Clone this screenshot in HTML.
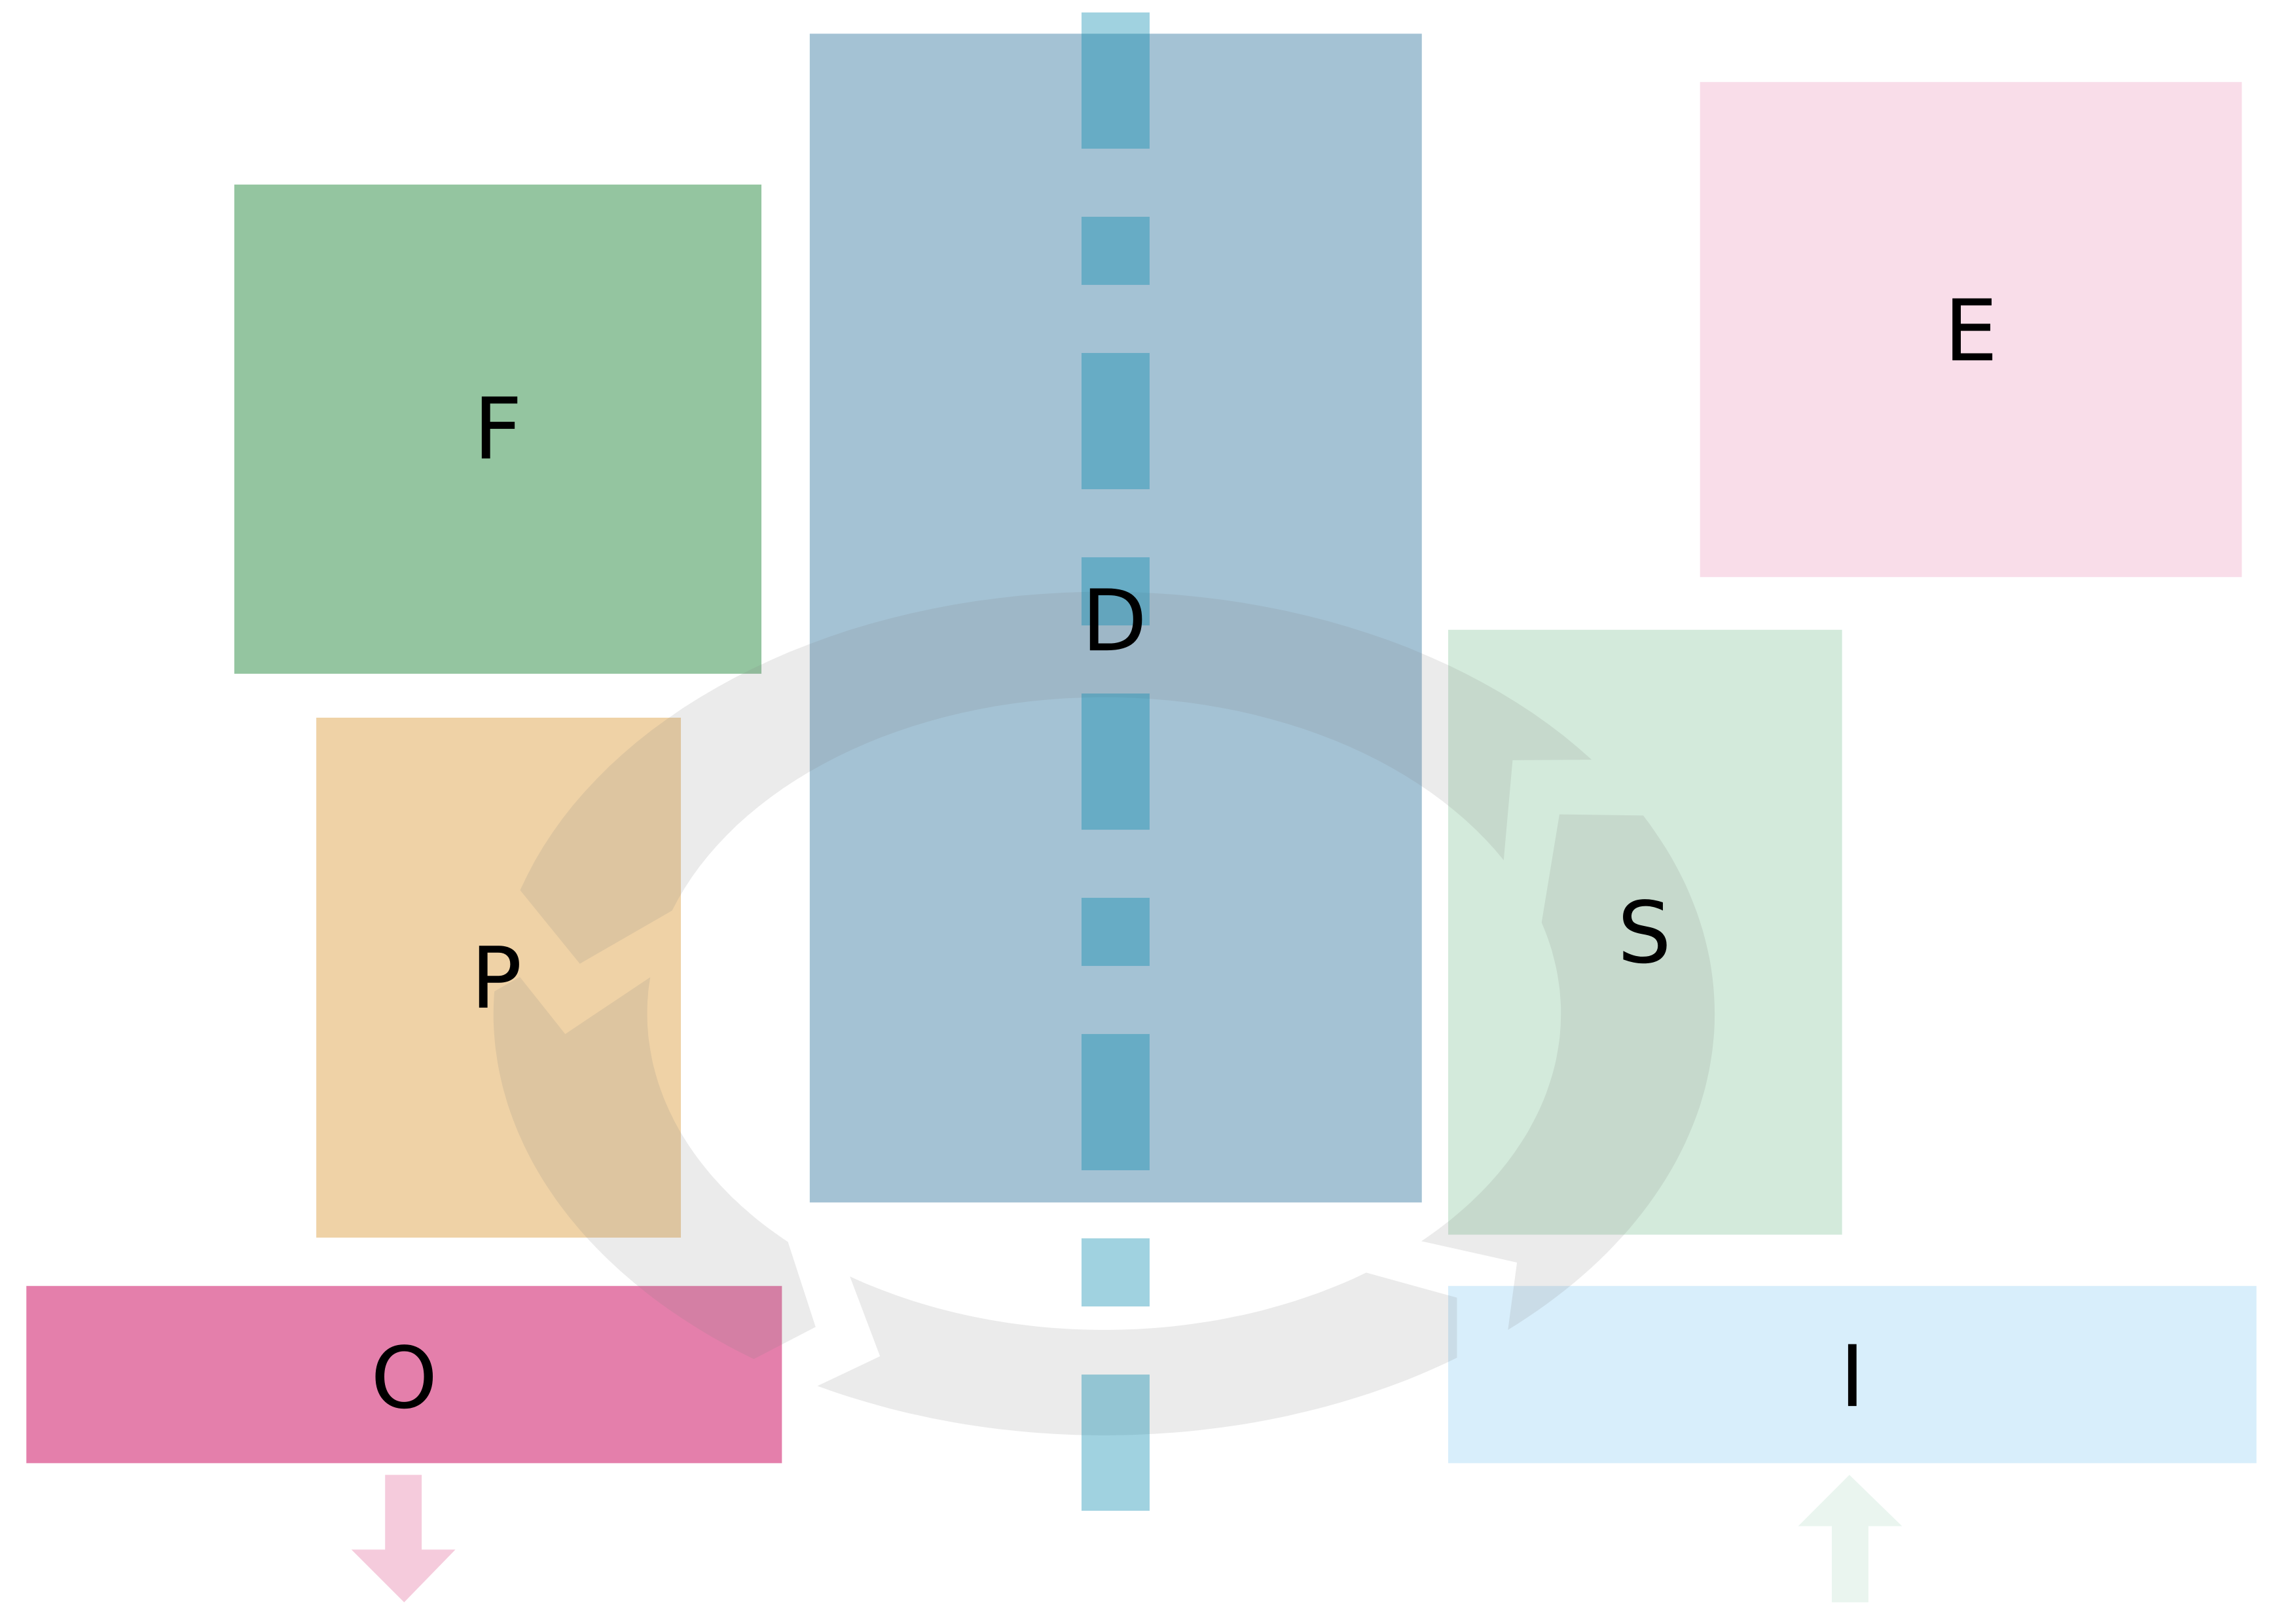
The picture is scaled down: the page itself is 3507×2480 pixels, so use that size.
<!DOCTYPE html>
<html><head><meta charset="utf-8"><style>html,body{margin:0;padding:0;background:#fff}svg{display:block}</style></head>
<body>
<svg id="chart" width="3507" height="2480" viewBox="0 0 1568 1108.8" xmlns="http://www.w3.org/2000/svg" font-family="'DejaVu Sans','Liberation Sans',sans-serif">
<rect x="0" y="0" width="1568" height="1108.8" fill="#fff"/>
<rect x="160" y="126" width="360" height="334" fill="#94c5a0"/>
<rect x="1161" y="56" width="370" height="338" fill="#f9dde9"/>
<rect x="216" y="490" width="249" height="355" fill="#efd2a6"/>
<rect x="989" y="430" width="269" height="413" fill="#d3eadb"/>
<rect x="18" y="878" width="516" height="121" fill="#e47fab"/>
<rect x="989" y="878" width="552" height="121" fill="#d8eefb"/>
<rect x="553" y="23" width="418" height="798" fill="#a4c2d4"/>
<g id="ring"></g>
<g id="dashes"></g>
<polygon points="263,1007 288,1007 288,1058 311,1058 276,1094 240,1058 263,1058" fill="#f5cbdc"/>
<polygon points="1263,1007 1299,1042 1276,1042 1276,1094 1251,1094 1251,1042 1228,1042" fill="#eaf5ef"/>
<g font-size="58" fill="#000" text-anchor="middle">
<text x="340" y="313">F</text>
<text x="1346" y="246">E</text>
<text x="761" y="444">D</text>
<text x="339" y="688">P</text>
<text x="1123" y="657">S</text>
<text x="276" y="961">O</text>
<text x="1265" y="960">I</text>
</g>
</svg>
<script>
const NS='http://www.w3.org/2000/svg';
const cx=754, cy=692, ro=[417,288], ri=[312,216];
// segments: outer arc start/end (deg), extra end points, inner arc start/end (deg), extra start points
const segOuter=[[-163,-37],[-28,48.6],[54.7,118],[125,183]];
const segInner=[[-29,-161],[46,-16.7],[123.8,55],[186.6,133.8]];
const segEndPts=[[[1033,519]],[[1036,862]],[[601,926]],[[355,667],[386,706]]];
const segStartPts=[[[396,658]],[[1065,556]],[[995,886]],[[557,906]]];
function ep(r,d){const t=d*Math.PI/180;return [cx+r[0]*Math.cos(t),cy+r[1]*Math.sin(t)];}
const ring=document.getElementById('ring');
for(let i=0;i<segOuter.length;i++){
  const pts=[];
  const [a0,a1]=segOuter[i];
  for(let k=0;k<=60;k++)pts.push(ep(ro,a0+(a1-a0)*k/60));
  segEndPts[i].forEach(p=>pts.push(p));
  const [b0,b1]=segInner[i];
  for(let k=0;k<=60;k++)pts.push(ep(ri,b0+(b1-b0)*k/60));
  segStartPts[i].forEach(p=>pts.push(p));
  const pg=document.createElementNS(NS,'polygon');
  pg.setAttribute('points',pts.map(p=>p[0].toFixed(1)+','+p[1].toFixed(1)).join(' '));
  pg.setAttribute('fill','rgba(128,128,128,0.16)');
  
  
  ring.appendChild(pg);
}
const dashLens=[93,46.5,93,46.5,93,46.5,93,46.5,93];
const dg=document.getElementById('dashes');
let y=8.5;
for(let i=0;i<dashLens.length;i++){
  const r=document.createElementNS(NS,'rect');
  r.setAttribute('x',738.6);r.setAttribute('y',y);r.setAttribute('width',46.5);r.setAttribute('height',dashLens[i]);
  r.setAttribute('fill','rgba(0,135,172,0.374)');
  
  
  dg.appendChild(r);
  y+=dashLens[i]+46.5;
}
</script>
</body></html>
